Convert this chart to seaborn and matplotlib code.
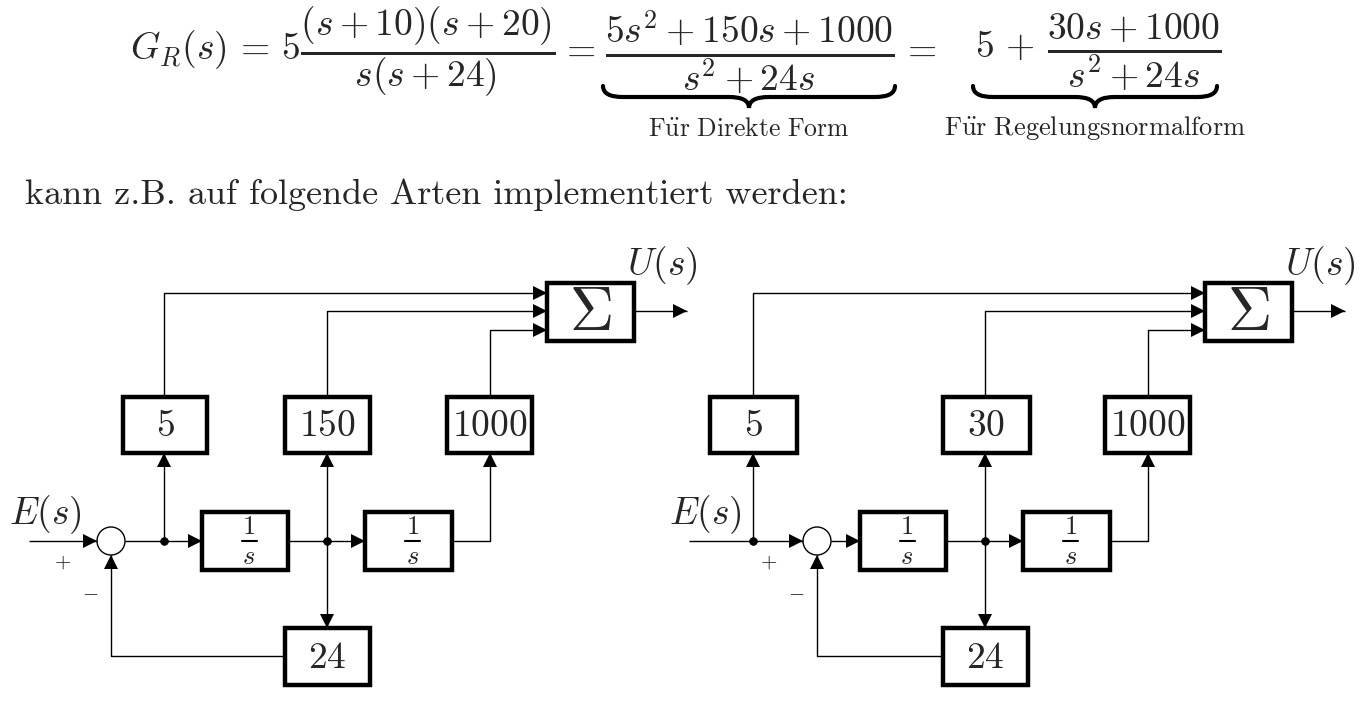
import numpy as np
import matplotlib
matplotlib.use("Agg")
import matplotlib.pyplot as plt
import seaborn as sns
from matplotlib.patches import Rectangle, Circle, Polygon, PathPatch
from matplotlib.path import Path

# Blockbeschriftungen
left_gains = ["5", "150", "1000"]
right_gains = ["5", "30", "1000"]
feedback_gain = "24"
integrator_num = "$1$"
integrator_den = "$s$"
sum_label = r"$\Sigma$"
input_label = r"$E(s)$"
output_label = r"$U(s)$"

formula_a = r"$G_R(s) \,=\, 5\genfrac{}{}{3}{0}{(s+10)(s+20)}{s(s+24)}$"
formula_b = r"$\genfrac{}{}{3}{0}{5s^2+150s+1000}{s^2+24s}$"
formula_c = r"$5\,+\,\genfrac{}{}{3}{0}{30s+1000}{s^2+24s}$"
brace_labels = [r"$\mathrm{F\ddot{u}r\ Direkte\ Form}$",
                r"$\mathrm{F\ddot{u}r\ Regelungsnormalform}$"]
sentence = "kann z.B. auf folgende Arten implementiert werden:"

sns.set_theme(style="white")
plt.rcParams["mathtext.fontset"] = "cm"
plt.rcParams["font.family"] = ["DejaVu Serif"]
plt.rcParams["axes.formatter.use_mathtext"] = True

fig = plt.figure(figsize=(13.62, 7.03), dpi=100)
ax = fig.add_axes([0, 0, 1, 1])
ax.set_xlim(0, 1362)
ax.set_ylim(703, 0)
ax.axis("off")

LW = 1.0
BOX_LW = 3.2


def arrow(pts):
    pts = np.asarray(pts, dtype=float)
    ax.plot(pts[:, 0], pts[:, 1], color="black", lw=LW, solid_capstyle="butt", zorder=2)
    tip = pts[-1]
    d = tip - pts[-2]
    d = d / np.hypot(*d)
    n = np.array([-d[1], d[0]])
    base = tip - d * 14
    tri = [tip, base + n * 7, base - n * 7]
    ax.add_patch(Polygon(tri, closed=True, color="black", lw=0, zorder=4))


def line(pts):
    pts = np.asarray(pts, dtype=float)
    ax.plot(pts[:, 0], pts[:, 1], color="black", lw=LW, zorder=2)


def box(x0, x1, y0, y1, label=None, size=27, dy=1):
    ax.add_patch(Rectangle((x0, y0), x1 - x0, y1 - y0, fill=True, fc="white",
                           ec="black", lw=BOX_LW, zorder=3, joinstyle="miter"))
    if label is not None:
        ax.text((x0 + x1) / 2, (y0 + y1) / 2 + dy, label, ha="center", va="center",
                fontsize=size, zorder=5)


def integrator_box(x0, x1, y0, y1):
    box(x0, x1, y0, y1)
    cx = (x0 + x1) / 2 + 4
    cy = (y0 + y1) / 2
    ax.text(cx, cy - 2, integrator_num, ha="center", va="bottom", fontsize=19, zorder=5)
    ax.plot([cx - 7.5, cx + 7.5], [cy, cy], color="black", lw=1.5, zorder=5)
    ax.text(cx, cy + 16, integrator_den, ha="center", va="center", fontsize=19, zorder=5)


def brace(x0, x1, y0, h):
    xm = (x0 + x1) / 2
    q = h * 0.9
    ym = y0 + h / 2
    verts = [(x0, y0), (x0, ym), (x0 + q, ym),
             (xm - q, ym), (xm, ym), (xm, y0 + h),
             (xm, ym), (xm + q, ym),
             (x1 - q, ym), (x1, ym), (x1, y0)]
    codes = [Path.MOVETO, Path.CURVE3, Path.CURVE3,
             Path.LINETO, Path.CURVE3, Path.CURVE3,
             Path.CURVE3, Path.CURVE3,
             Path.LINETO, Path.CURVE3, Path.CURVE3]
    ax.add_patch(PathPatch(Path(verts, codes), fill=False, lw=3.0, ec="black",
                           capstyle="round"))


def diagram(dx, xin, xc, xb, gains, gain_boxes):
    ym = 541
    r = 14
    # Eingang und Summationsstelle
    ax.add_patch(Circle((xc, ym), r, fill=False, ec="black", lw=LW, zorder=3))
    i1 = (202 + dx, 288 + dx)
    i2 = (365 + dx, 452 + dx)
    xj = 327 + dx
    arrow([(xin, ym), (xc - r, ym)])
    arrow([(xc + r, ym), (i1[0], ym)])
    dots = [(xb, ym), (xj, ym)]

    gy = (397, 453)
    gx = [(xb, gain_boxes[0]), (xj, gain_boxes[1]), (490 + dx, gain_boxes[2])]
    sx = (547 + dx, 634 + dx)
    sy = (283, 341)
    inputs_y = [293, 311, 330]

    # Integratoren
    integrator_box(i1[0], i1[1], 512, 570)
    integrator_box(i2[0], i2[1], 512, 570)
    arrow([(i1[1], ym), (i2[0], ym)])
    line([(i2[1], ym), (gx[2][0], ym)])

    # Zweige zu den Verstaerkungen
    for (x, (bx0, bx1)), lab, yin in zip(gx, gains, inputs_y):
        arrow([(x, ym), (x, gy[1])])
        box(bx0, bx1, gy[0], gy[1], "$" + lab + "$")
        arrow([(x, gy[0]), (x, yin), (sx[0], yin)])

    # Summierer
    box(sx[0], sx[1], sy[0], sy[1], sum_label, size=44, dy=1)
    arrow([(sx[1], 311), (687 + dx, 311)])

    # Rueckfuehrung
    arrow([(xj, ym), (xj, 628)])
    box(285 + dx, 370 + dx, 628, 685, "$" + feedback_gain + "$")
    arrow([(285 + dx, 656), (xc, 656), (xc, ym + r)])

    xs, ys = zip(*dots)
    sns.scatterplot(x=list(xs), y=list(ys), ax=ax, s=32, color="black",
                    edgecolor="black", zorder=6, legend=False)

    ax.text(xin + 16, 515, input_label, ha="center", va="center", fontsize=27)
    ax.text(662 + dx, 266, output_label, ha="center", va="center", fontsize=27)
    ax.text(xc - 48, 562, r"$+$", ha="center", va="center", fontsize=15)
    ax.text(xc - 21, 593, r"$-$", ha="center", va="center", fontsize=15)


diagram(0, 29, 111, 164, left_gains, [(123, 207), (285, 370), (447, 532)])
diagram(658, 689, 817, 753, right_gains, [(710, 797), (943, 1030), (1105, 1190)])

# Formelzeile
ax.text(130, 52, formula_a, ha="left", va="center", fontsize=27)
ax.text(578, 50, r"$=$", ha="center", va="center", fontsize=27)
ax.text(750, 52, formula_b, ha="center", va="center", fontsize=27)
ax.text(919, 50, r"$=$", ha="center", va="center", fontsize=27)
ax.text(975, 52, formula_c, ha="left", va="center", fontsize=27)
brace(603, 895, 86, 22)
brace(973, 1217, 86, 22)
ax.text(749, 128, brace_labels[0], ha="center", va="center", fontsize=18.5)
ax.text(1095, 128, brace_labels[1], ha="center", va="center", fontsize=19)

ax.text(25, 195, sentence, ha="left", va="center", fontsize=26, family="cmr10")

fig.savefig("out.png", dpi=100, facecolor="white")
